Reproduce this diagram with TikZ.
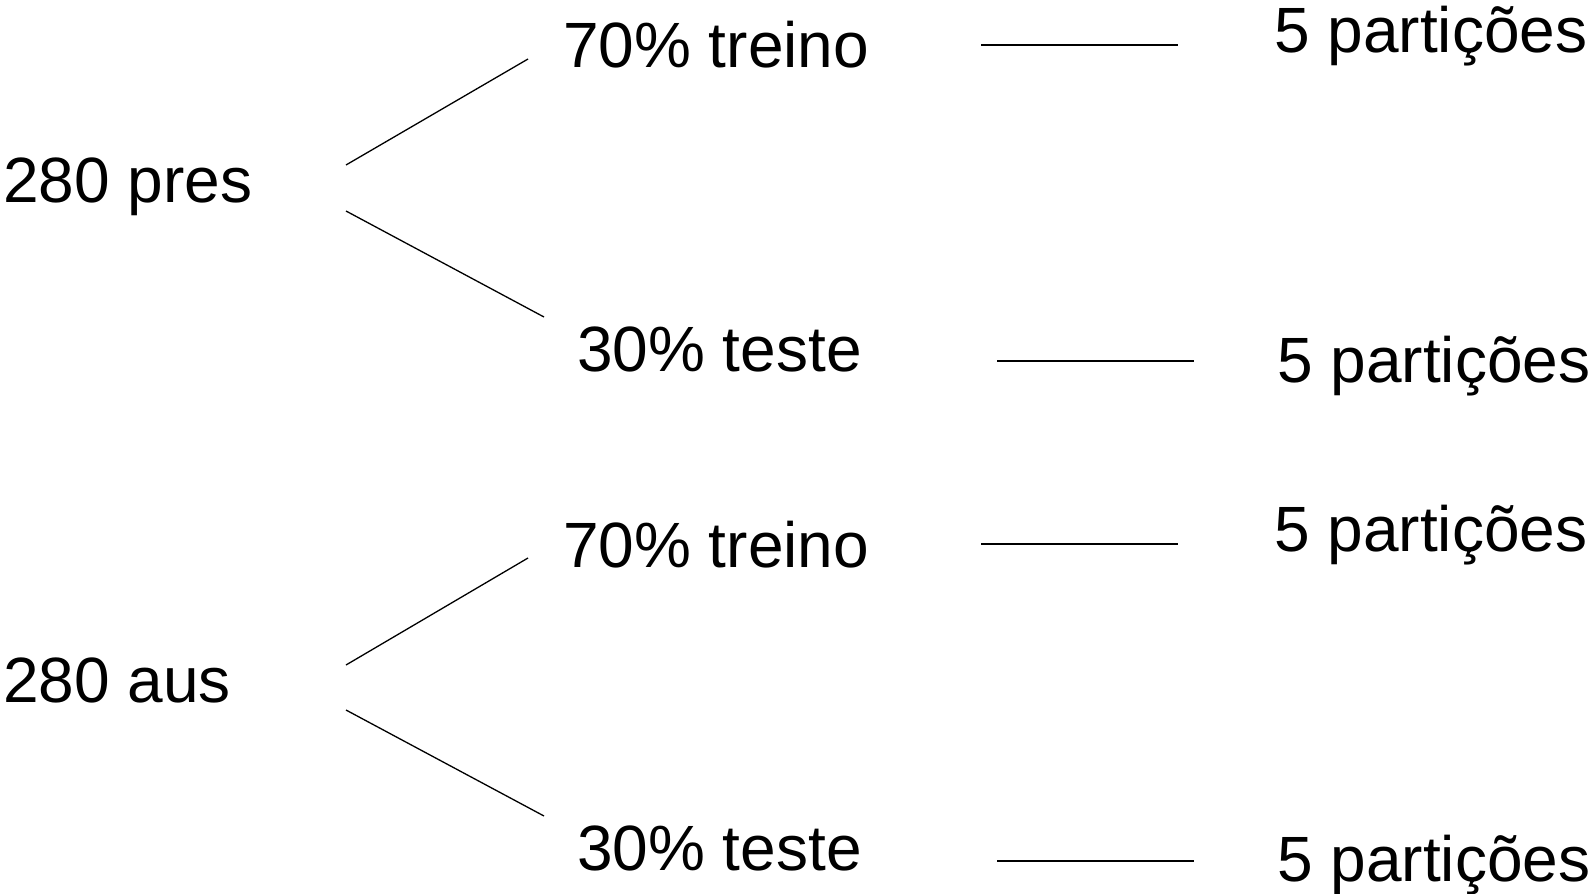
\documentclass[tikz,border=0pt]{standalone}
\usepackage{fontspec}
\setmainfont{Liberation Sans}
\begin{document}
\begin{tikzpicture}[x=1pt,y=-1pt,
  lbl/.style={anchor=base west,inner sep=0pt,font=\fontsize{64}{72}\selectfont},
  link/.style={draw=black,line width=1.3pt}]
\useasboundingbox (0,0) rectangle (1590,894);
% upper branch: present class
\node[lbl] (pres) at (3,202) {280 pres};
\node[lbl] (trA) at (563,67) {70\% treino};
\node[lbl] (teA) at (577,371) {30\% teste};
\node[lbl] (pA1) at (1274,52) {5 partições};
\node[lbl] (pA2) at (1277,382) {5 partições};
\coordinate (a1) at (346,165); \coordinate (a2) at (528,59);
\coordinate (a3) at (346,211); \coordinate (a4) at (544,317);
\coordinate (a5) at (981,45);  \coordinate (a6) at (1178,45);
\coordinate (a7) at (997,361); \coordinate (a8) at (1194,361);
\draw[link] (a1) -- (a2);
\draw[link] (a3) -- (a4);
\draw[link] (a5) -- (a6);
\draw[link] (a7) -- (a8);
% lower branch: absent class
\node[lbl] (aus) at (3,702) {280 aus};
\node[lbl] (trB) at (563,567) {70\% treino};
\node[lbl] (teB) at (577,870) {30\% teste};
\node[lbl] (pB1) at (1274,551) {5 partições};
\node[lbl] (pB2) at (1277,881) {5 partições};
\coordinate (b1) at (346,665); \coordinate (b2) at (528,558);
\coordinate (b3) at (346,710); \coordinate (b4) at (544,816);
\coordinate (b5) at (981,544); \coordinate (b6) at (1178,544);
\coordinate (b7) at (997,861); \coordinate (b8) at (1194,861);
\draw[link] (b1) -- (b2);
\draw[link] (b3) -- (b4);
\draw[link] (b5) -- (b6);
\draw[link] (b7) -- (b8);
\end{tikzpicture}
\end{document}
